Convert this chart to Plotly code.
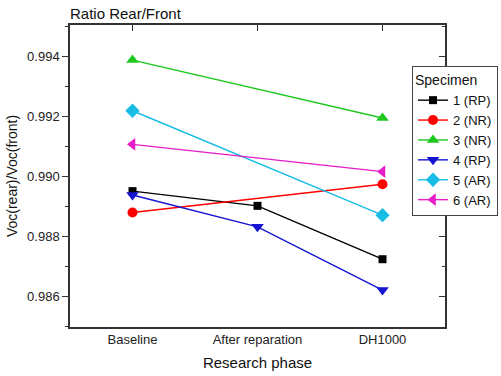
import plotly.graph_objects as go

phases = ["Baseline", "After reparation", "DH1000"]

s1_rp = [0.98952, 0.98903, 0.98725]
s2_nr = [0.98881, None, 0.98975]
s3_nr = [0.99389, None, 0.99196]
s4_rp = [0.98939, 0.98833, 0.98622]
s5_ar = [0.99220, None, 0.98872]
s6_ar = [0.99108, None, 0.99017]

names = ["1 (RP)", "2 (NR)", "3 (NR)", "4 (RP)", "5 (AR)", "6 (AR)"]
series = [s1_rp, s2_nr, s3_nr, s4_rp, s5_ar, s6_ar]
colors = ["#000000", "#ff0000", "#1ec81e", "#1414d2", "#18bde6", "#e61cc8"]
symbols = ["square", "circle", "triangle-up", "triangle-down", "diamond", "triangle-left"]
sizes = [8, 10, 11, 11, 11, 11]

FONT = "Liberation Sans, Arial, sans-serif"

fig = go.Figure()
for name, vals, col, sym, sz in zip(names, series, colors, symbols, sizes):
    fig.add_trace(go.Scatter(
        x=phases, y=vals, name=name, mode="lines+markers",
        connectgaps=True,
        line=dict(color=col, width=1.4),
        marker=dict(symbol=sym, size=sz, color=col, line=dict(width=0)),
    ))

# invisible trace holding the mirrored top/right axes
fig.add_trace(go.Scatter(x=phases, y=[None, None, None], xaxis="x2", yaxis="y2",
                         showlegend=False, hoverinfo="skip"))

fig.update_layout(
    width=501, height=376,
    margin=dict(l=70, r=56, t=25, b=49, autoexpand=False),
    paper_bgcolor="white", plot_bgcolor="white",
    font=dict(family=FONT, size=12, color="#222"),
    title=dict(text="Ratio Rear/Front", x=70/501, xanchor="left", y=1 - 14/376,
               yanchor="middle", font=dict(size=15, color="#111")),
    xaxis=dict(
        type="category", range=[-0.5, 2.5],
        showline=True, linecolor="#333", linewidth=1.5,
        ticks="", showgrid=False, zeroline=False,
        tickfont=dict(size=13, color="#222"),
        title=dict(text="Research phase", font=dict(size=15, color="#111"), standoff=11),
    ),
    yaxis=dict(
        range=[0.98499, 0.99506],
        tickvals=[0.986, 0.988, 0.990, 0.992, 0.994],
        ticktext=["0.986", "0.988", "0.990", "0.992", "0.994"],
        showline=True, linecolor="#333", linewidth=1.5,
        ticks="outside", ticklen=6, tickwidth=1.2, tickcolor="#333",
        minor=dict(tickvals=[0.985, 0.987, 0.989, 0.991, 0.993, 0.995],
                   ticks="outside", ticklen=3, tickwidth=1.2, tickcolor="#333"),
        showgrid=False, zeroline=False,
        tickfont=dict(size=13, color="#222"),
        title=dict(text="Voc(rear)/Voc(front)", font=dict(size=14, color="#111"), standoff=6),
    ),
    xaxis2=dict(
        type="category", overlaying="x", side="top", matches="x",
        showline=True, linecolor="#333", linewidth=1.5,
        ticks="inside", ticklen=6, tickwidth=1.2, tickcolor="#333",
        showticklabels=False, showgrid=False, zeroline=False,
    ),
    yaxis2=dict(
        overlaying="y", side="right", matches="y",
        tickvals=[0.986, 0.988, 0.990, 0.992, 0.994],
        showline=True, linecolor="#333", linewidth=1.5,
        ticks="inside", ticklen=6, tickwidth=1.2, tickcolor="#333",
        minor=dict(tickvals=[0.985, 0.987, 0.989, 0.991, 0.993, 0.995],
                   ticks="inside", ticklen=3, tickwidth=1.2, tickcolor="#333"),
        showticklabels=False, showgrid=False, zeroline=False,
    ),
    legend=dict(
        x=(412 - 70) / 375, y=(327 - 66) / 302, xanchor="left", yanchor="top",
        bgcolor="white", bordercolor="#444", borderwidth=1,
        font=dict(size=13, color="#111"),
        title=dict(text="Specimen", font=dict(size=14, color="#111")),
        tracegroupgap=0, itemwidth=30,
    ),
    showlegend=True,
)

fig.write_html("out.html")
